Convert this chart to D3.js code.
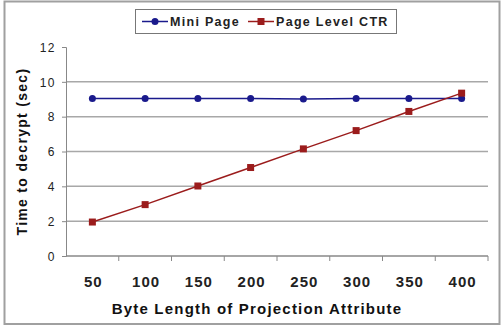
<!DOCTYPE html>
<html>
<head>
<meta charset="utf-8">
<script src="https://cdn.jsdelivr.net/npm/d3@7"></script>
<style>
  body { margin: 0; background: #fff; }
  svg { display: block; font-family: Arial, "Liberation Sans", sans-serif; }
</style>
</head>
<body>
<svg id="chart" width="502" height="327"></svg>
<script>
// byte lengths on the x axis
var categories = ['50', '100', '150', '200', '250', '300', '350', '400'];
var miniPage = [9.05, 9.05, 9.05, 9.05, 9.02, 9.05, 9.05, 9.05];
var pageLevelCtr = [1.95, 2.95, 4.02, 5.08, 6.15, 7.2, 8.3, 9.35];
var yTicks = [0, 2, 4, 6, 8, 10, 12];

var svg = d3.select('#chart');
var m = {left: 66, right: 488, top: 47, bottom: 256};

// frame around the whole chart
svg.append('rect')
  .attr('x', 4.5).attr('y', 1.5)
  .attr('width', 495).attr('height', 322.5)
  .style('fill', 'none')
  .style('stroke', '#a0a0a0')
  .style('stroke-width', 2)
;

var x = d3.scaleBand()
  .domain(categories)
  .range([m.left, m.right]);

var y = d3.scaleLinear()
  .domain([0, 12])
  .range([m.bottom, m.top]);

// gridlines
svg.append('g')
  .selectAll('line')
  .data(yTicks.filter(function(d) { return d > 0 && d < 12; }))
  .enter().append('line')
    .attr('x1', m.left).attr('x2', m.right)
    .attr('y1', function(d) { return y(d); })
    .attr('y2', function(d) { return y(d); })
    .style('stroke', '#a8a8a8')
    .style('stroke-width', 1.5)
;

// y axis
var yAxis = svg.append('g')
  .attr('transform', 'translate(' + m.left + ',0)')
  .call(d3.axisLeft(y).tickValues(yTicks).tickSize(4).tickSizeOuter(4));
yAxis.select('.domain').style('stroke', '#888');
yAxis.selectAll('.tick line').style('stroke', '#888');
yAxis.selectAll('.tick text')
  .attr('x', -10)
  .attr('dy', '0.36em')
  .style('font-size', '12px')
  .style('letter-spacing', '1.5px')
  .style('fill', '#222');

// x axis: ticks sit on the band edges
var xAxis = svg.append('g')
  .attr('transform', 'translate(0,' + m.bottom + ')');
xAxis.append('line')
  .attr('x1', m.left).attr('x2', m.right)
  .style('stroke', '#888').style('stroke-width', 1.5);
xAxis.selectAll('.edge')
  .data(categories)
  .enter().append('line')
    .attr('class', 'edge')
    .attr('x1', function(d) { return x(d) + x.bandwidth(); })
    .attr('x2', function(d) { return x(d) + x.bandwidth(); })
    .attr('y1', 0).attr('y2', 5)
    .style('stroke', '#888');
xAxis.selectAll('.lbl')
  .data(categories)
  .enter().append('text')
    .attr('class', 'lbl')
    .attr('x', function(d) { return x(d) + x.bandwidth() / 2 + 1; })
    .attr('y', 31)
    .attr('text-anchor', 'middle')
    .style('font-size', '15px')
    .style('font-weight', 'bold')
    .style('letter-spacing', '1px')
    .style('fill', '#222')
    .text(function(d) { return d; });

// axis titles
svg.append('text')
  .attr('x', 257)
  .attr('y', 314)
  .attr('text-anchor', 'middle')
  .style('font-size', '15px')
  .style('font-weight', 'bold')
  .style('letter-spacing', '1.2px')
  .style('fill', '#111')
  .text('Byte Length of Projection Attribute');

svg.append('text')
  .attr('transform', 'translate(27,' + y(6) + ') rotate(-90)')
  .attr('text-anchor', 'middle')
  .style('font-size', '14px')
  .style('font-weight', 'bold')
  .style('letter-spacing', '1.3px')
  .style('fill', '#111')
  .text('Time to decrypt (sec)');

var line = d3.line()
  .x(function(d, i) { return x(categories[i]) + x.bandwidth() / 2; })
  .y(function(d) { return y(d); });

var blue = '#1a1a8c', red = '#9b1c1c';

svg.append('path').datum(miniPage)
  .attr('d', line)
  .style('fill', 'none').style('stroke', blue).style('stroke-width', 1.5);
svg.append('path').datum(pageLevelCtr)
  .attr('d', line)
  .style('fill', 'none').style('stroke', red).style('stroke-width', 1.5);

svg.append('g').selectAll('circle')
  .data(miniPage)
  .enter().append('circle')
    .attr('cx', function(d, i) { return x(categories[i]) + x.bandwidth() / 2; })
    .attr('cy', function(d) { return y(d); })
    .attr('r', 3.5)
    .style('fill', blue);

svg.append('g').selectAll('rect')
  .data(pageLevelCtr)
  .enter().append('rect')
    .attr('x', function(d, i) { return x(categories[i]) + x.bandwidth() / 2 - 3.5; })
    .attr('y', function(d) { return y(d) - 3.5; })
    .attr('width', 7).attr('height', 7)
    .style('fill', red);

// legend
var lg = svg.append('g').attr('transform', 'translate(135,9)');
lg.append('rect')
  .attr('x', 0.5).attr('y', 0.5)
  .attr('width', 261).attr('height', 24)
  .style('fill', '#fff').style('stroke', '#777');
var items = [
  {name: 'Mini Page', color: blue, shape: 'circle', x: 7},
  {name: 'Page Level CTR', color: red, shape: 'square', x: 113}
];
items.forEach(function(it) {
  var g = lg.append('g').attr('transform', 'translate(' + it.x + ',12.5)');
  g.append('line').attr('x1', 0).attr('x2', 26)
    .style('stroke', it.color).style('stroke-width', 1.5);
  if (it.shape == 'circle') {
    g.append('circle').attr('cx', 13).attr('r', 3.5).style('fill', it.color);
  } else {
    g.append('rect').attr('x', 9.5).attr('y', -3.5).attr('width', 7).attr('height', 7)
      .style('fill', it.color);
  }
  g.append('text').attr('x', 28).attr('y', 4.5)
    .style('font-size', '12.5px')
    .style('font-weight', 'bold')
    .style('letter-spacing', '1.3px')
    .style('fill', '#222')
    .text(it.name);
});
</script>
</body>
</html>
